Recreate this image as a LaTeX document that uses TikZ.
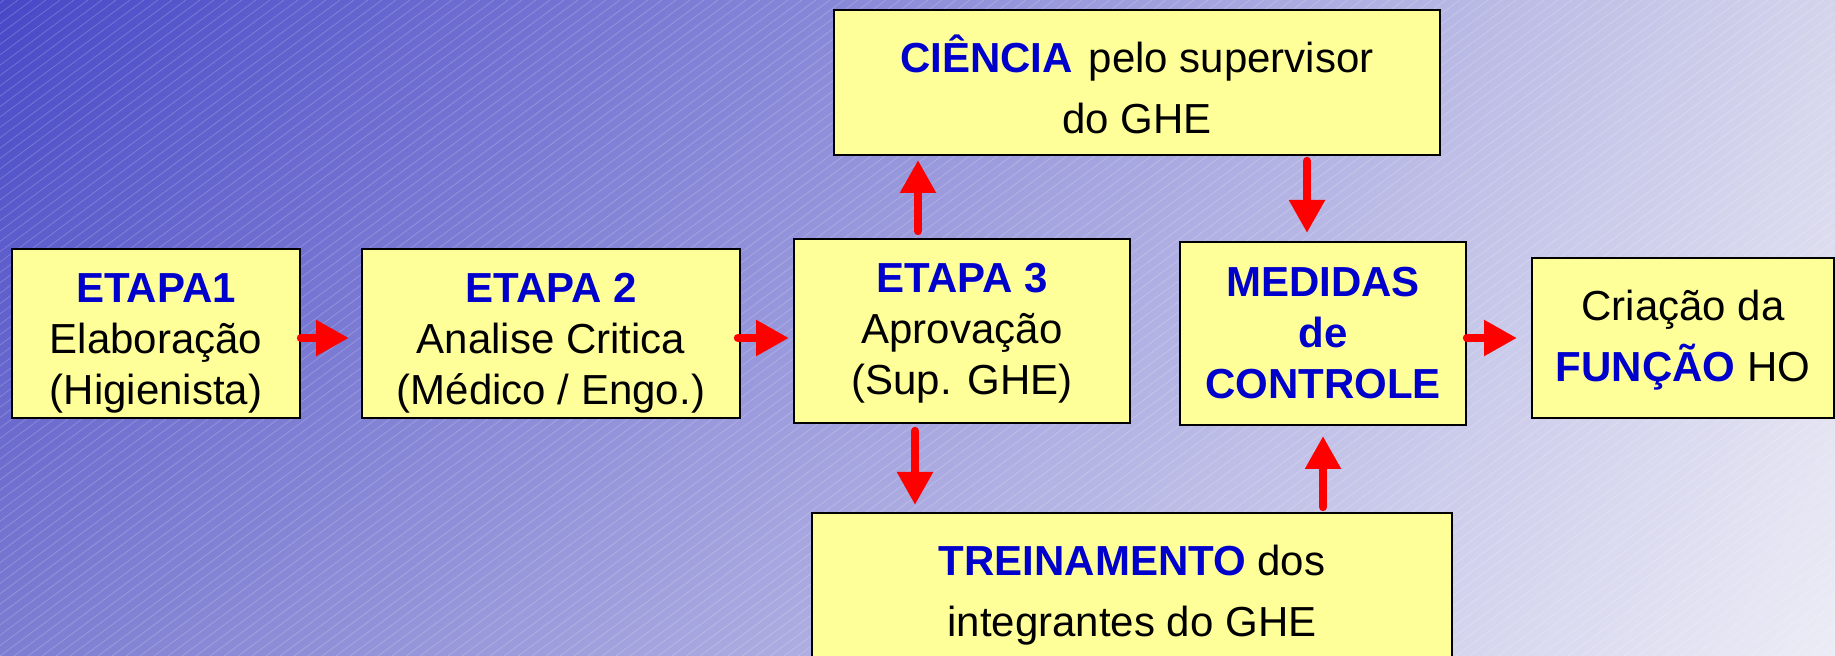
\documentclass[tikz,border=0pt]{standalone}
\usepackage{fontspec}
\setmainfont{Liberation Sans}
\usetikzlibrary{arrows.meta,shadings}
\definecolor{boxyellow}{RGB}{255,255,153}
\definecolor{titleblue}{RGB}{0,0,204}
\definecolor{bgtl}{RGB}{72,72,200}
\definecolor{bgtr}{RGB}{212,212,236}
\definecolor{bgbl}{RGB}{125,125,210}
\definecolor{bgbr}{RGB}{236,236,246}
\newcommand{\kw}[1]{\textbf{\textcolor{titleblue}{#1}}}
\newcommand{\upstrut}[1]{\rule{0pt}{#1}}
\newcommand{\dnstrut}{\rule[-5pt]{0pt}{5pt}}

\begin{document}
\begin{tikzpicture}[x=0.5pt,y=-0.5pt,
	box/.style={draw=black, line width=1pt, fill=boxyellow, align=center, inner sep=0pt,
		font=\fontsize{21pt}{25.5pt}\selectfont},
	widebox/.style={box, font=\fontsize{21pt}{30.5pt}\selectfont},
	flow/.style={draw=red, line width=4.2pt, line cap=round, -{Triangle[length=16.5pt,width=17pt]}},
	hatch/.style={white, opacity=0.2, line width=0.4pt}]

			\useasboundingbox (0,0) rectangle (1835,656);
			\clip (0,0) rectangle (1835,656);

			% background
			\shade[upper left=bgtl, upper right=bgtr, lower left=bgbl, lower right=bgbr] (0,0) rectangle (1835,656);
			\foreach \i in {-64,...,131}
				\draw[hatch] ({\i*14},656) -- ++(886,-656);

			% boxes
			\node[box, minimum width=144pt, minimum height=84.5pt] (etapa1) at (156,333.5)
				{\upstrut{25.5pt}\kw{ETAPA1}\\Elaboração\\(Higienista)\dnstrut};
			\node[box, minimum width=189pt, minimum height=84.5pt] (etapa2) at (551,333.5)
				{\upstrut{25.5pt}\kw{ETAPA 2}\\Analise Critica\\(Médico / Engo.)\dnstrut};
			\node[box, minimum width=168pt, minimum height=92pt] (etapa3) at (962,331)
				{\upstrut{17.5pt}\kw{ETAPA 3}\\Aprovação\\(Sup. GHE)\dnstrut};
			\node[widebox, minimum width=303pt, minimum height=72.5pt] (ciencia) at (1137,82.5)
				{\upstrut{25.5pt}\kw{CIÊNCIA}\hspace{0.1em} pelo supervisor\\do GHE\dnstrut};
			\node[box, minimum width=143pt, minimum height=91.5pt] (medidas) at (1323,333.5)
				{\upstrut{19pt}\kw{MEDIDAS}\\\kw{de}\\\kw{CONTROLE}\dnstrut};
			\node[widebox, minimum width=151pt, minimum height=80pt] (criacao) at (1683,338)
				{\upstrut{18pt}Criação da\\\kw{FUNÇÃO} HO\dnstrut};
			\node[widebox, minimum width=320pt, minimum height=82pt] (treino) at (1132,595)
				{\upstrut{16pt}\kw{TREINAMENTO} dos\\integrantes do GHE\dnstrut};

			% arrows
			\draw[flow, shorten >=6pt] (etapa1.east |- criacao.west) -- (etapa2.west |- criacao.west);
			\draw[flow, shorten <=-1.5pt, shorten >=2pt] (etapa2.east |- criacao.west) -- (etapa3.west |- criacao.west);
			\draw[flow, shorten >=7pt] (medidas.east |- criacao.west) -- (criacao.west);
			\draw[flow, shorten <=3.5pt, shorten >=2pt] ([xshift=-22pt]etapa3.north) -- ([xshift=-22pt]etapa3.north |- ciencia.south);
			\draw[flow, shorten <=3.5pt, shorten >=3.5pt] ([xshift=-23.5pt]etapa3.south) -- ([xshift=-23.5pt]etapa3.south |- treino.north);
			\draw[flow, shorten <=2.5pt, shorten >=4pt] ([xshift=-8pt]medidas.north |- ciencia.south) -- ([xshift=-8pt]medidas.north);
			\draw[flow, shorten <=2.5pt, shorten >=5pt] (medidas.south |- treino.north) -- (medidas.south);
		\end{tikzpicture}
\end{document}
